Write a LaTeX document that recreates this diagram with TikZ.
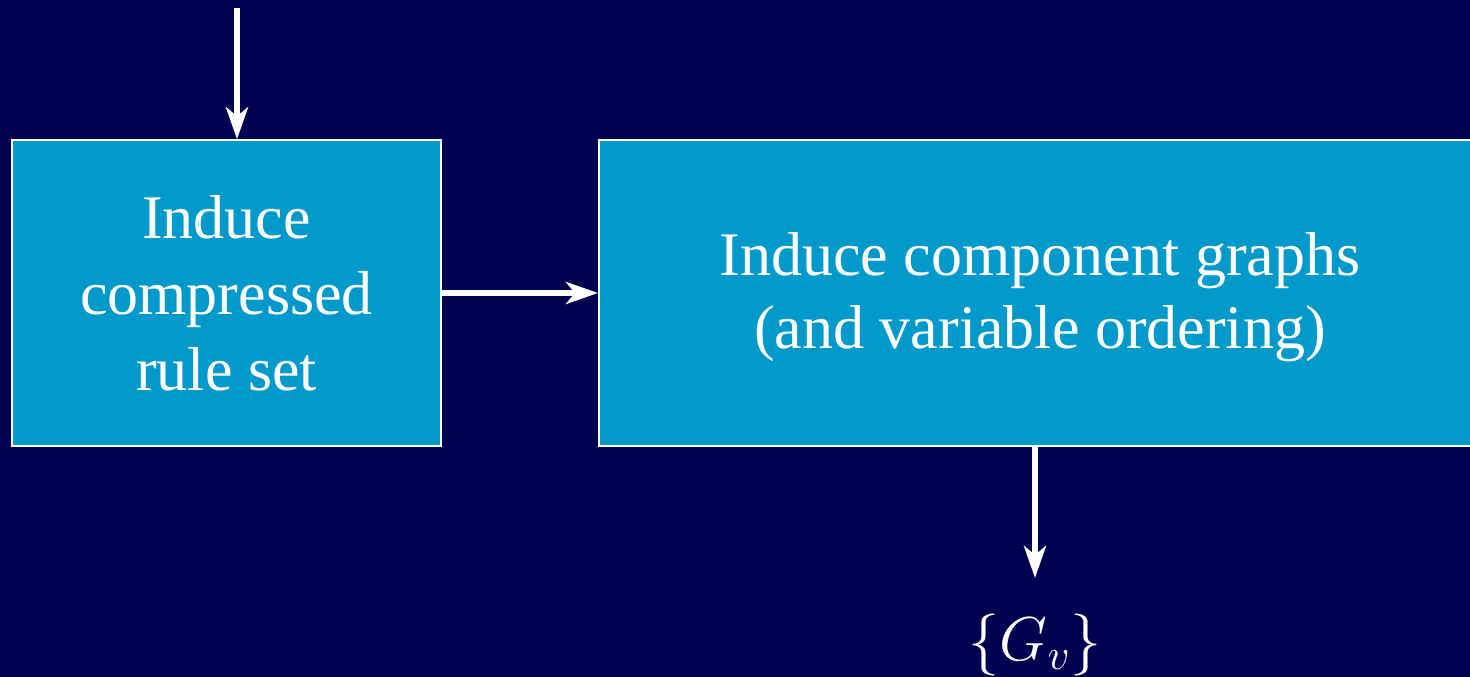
\RequirePackage{fix-cm}
\documentclass[tikz,border=0pt]{standalone}
\usepackage{fontspec}
\setmainfont{Liberation Serif}
\usetikzlibrary{arrows.meta}
\definecolor{bgnavy}{RGB}{0,0,80}
\definecolor{boxblue}{RGB}{0,153,204}
\begin{document}
\begin{tikzpicture}[x=1pt,y=-1pt,
  procbox/.style={draw=white,line width=1.5pt,fill=boxblue,text=white,align=center,inner sep=0pt},
  boxtext/.style={text=white,align=center,inner sep=0pt,font=\fontsize{62}{76}\selectfont},
  flow/.style={draw=white,line width=6pt,-{Stealth[length=32pt,width=22pt,inset=9pt]}}]
\fill[bgnavy] (0,0) rectangle (1470,677);
\useasboundingbox (0,0) rectangle (1470,677);
\coordinate (start) at (237,8);
\node[procbox,minimum width=429pt,minimum height=306pt] (rules) at (226.5,293) {};
\node[boxtext,anchor=base] (rulestext) at (226.5,390) {Induce\\compressed\\rule set};
\node[procbox,minimum width=880pt,minimum height=306pt,anchor=west] (graphs) at (598,293) {};
\node[boxtext,anchor=base,font=\fontsize{62}{73}\selectfont] (graphstext) at (1040,348) {Induce component graphs\\(and variable ordering)};
\coordinate (gout) at (1035,446);
\node[text=white,font=\fontsize{62}{66}\selectfont,inner sep=0pt] (gv) at (1035,645) {$\{G_v\}$};
\draw[flow] (start) -- (start |- rules.north);
\draw[flow] (rules.east) -- (graphs.west);
\draw[flow] (gout) -- (1035,578);
\end{tikzpicture}
\end{document}
